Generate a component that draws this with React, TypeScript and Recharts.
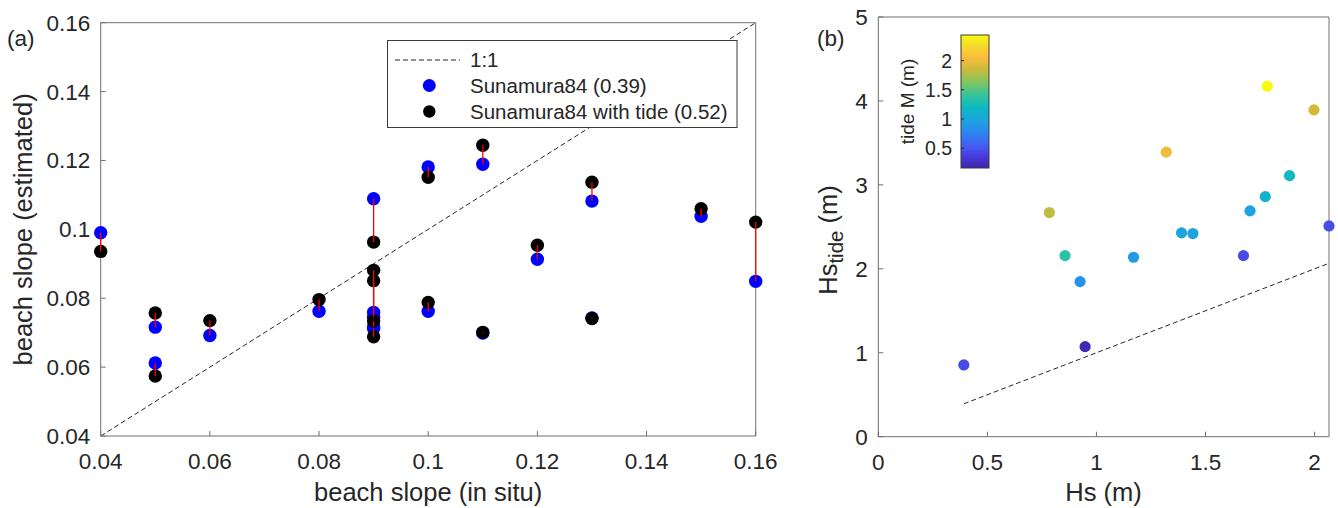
import React from 'react';
import { ScatterChart, Scatter, XAxis, YAxis, ReferenceLine } from 'recharts';

const FONT = '"Liberation Sans", Arial, Helvetica, sans-serif';
const TEXT = '#262626';
const AXIS = '#6f6f6f';

// ---------- Panel (a) data ----------
const slopeInSitu = [0.04, 0.05, 0.05, 0.06, 0.08, 0.09, 0.09, 0.09, 0.09, 0.09, 0.1, 0.1, 0.11, 0.11, 0.12, 0.13, 0.13, 0.15, 0.16];
const slopeSunamura = [0.099, 0.0716, 0.0612, 0.0692, 0.0762, 0.1089, 0.0759, 0.0745, 0.0717, 0.0712, 0.1181, 0.0762, 0.1189, 0.0699, 0.0913, 0.1082, 0.0743, 0.1038, 0.0849];
const slopeSunamuraTide = [0.0936, 0.0757, 0.0574, 0.0735, 0.0796, 0.0963, 0.0881, 0.0851, 0.0734, 0.0688, 0.1151, 0.0788, 0.1244, 0.0701, 0.0954, 0.1137, 0.0741, 0.106, 0.1021];
const slopeTicks = [0.04, 0.06, 0.08, 0.1, 0.12, 0.14, 0.16];
const slopeDomain = [0.04, 0.16];
const legendLabels = ['1:1', 'Sunamura84 (0.39)', 'Sunamura84 with tide (0.52)'];

// ---------- Panel (b) data ----------
const hs = [0.392, 0.784, 0.856, 0.925, 0.948, 1.17, 1.32, 1.39, 1.442, 1.674, 1.704, 1.774, 1.783, 1.885, 1.997, 2.066];
const hsTide = [0.855, 2.67, 2.157, 1.847, 1.073, 2.138, 3.39, 2.428, 2.42, 2.157, 2.69, 2.86, 4.176, 3.11, 3.894, 2.511];
const tideM = [0.45, 1.82, 1.35, 0.85, 0.2, 0.92, 2.0, 0.97, 0.97, 0.45, 0.97, 1.12, 2.44, 1.22, 1.88, 0.45];
const hsTicks = [0, 0.5, 1, 1.5, 2];
const hsTideTicks = [0, 1, 2, 3, 4, 5];
const tideTicks = [0.5, 1, 1.5, 2];
const tideRange = [0.16, 2.44];

// parula-like colormap
const PARULA: [number, string][] = [
  [0.0, '#3e26a8'], [0.08, '#4637d8'], [0.15, '#4856f1'], [0.25, '#2f80f3'],
  [0.35, '#1ea2e0'], [0.45, '#0cb8c5'], [0.55, '#36c49a'], [0.65, '#86c65e'],
  [0.75, '#d1ba3a'], [0.83, '#fbbd3d'], [0.92, '#f5da2c'], [1.0, '#f9fb0e'],
];
const hex2rgb = (h: string) => [1, 3, 5].map((i) => parseInt(h.slice(i, i + 2), 16));
const parula = (t: number) => {
  const c = Math.max(0, Math.min(1, t));
  for (let i = 1; i < PARULA.length; i++) {
    if (c <= PARULA[i][0]) {
      const [t0, h0] = PARULA[i - 1];
      const [t1, h1] = PARULA[i];
      const f = (c - t0) / (t1 - t0);
      const a = hex2rgb(h0), b = hex2rgb(h1);
      const m = a.map((v, k) => Math.round(v + (b[k] - v) * f));
      return `rgb(${m[0]},${m[1]},${m[2]})`;
    }
  }
  return PARULA[PARULA.length - 1][1];
};
const tideColor = (v: number) => parula((v - tideRange[0]) / (tideRange[1] - tideRange[0]));

const blueData = slopeInSitu.map((x, i) => ({ x, y: slopeSunamura[i] }));
const blackData = slopeInSitu.map((x, i) => ({ x, y: slopeSunamuraTide[i] }));
const pairData = slopeInSitu.map((x, i) => [{ x, y: slopeSunamura[i] }, { x, y: slopeSunamuraTide[i] }]);
const hsData = hs.map((x, i) => ({ x, y: hsTide[i], c: tideColor(tideM[i]) }));
const hsMin = Math.min(...hs);
const hsMax = Math.max(...hs);

const TICK_FS = 22.5;
const LABEL_FS = 25.5;

// chart coordinates: charts are placed at page (left, 0)
const A_TOP = 22.7, A_BOTTOM = 436, A_LEFT = 92.7, A_W = 780, A_PW = 655; // panel (a), chart at page x=8
const B_TOP = 17, B_BOTTOM = 436.7, B_LEFT = 88.3, B_W = 548, B_PW = 450.7; // panel (b), chart at page x=790
const CH = 508;
const TOP_H = 10;
const RIGHT_W = 10;

const bottomTick = (plotBottom: number) => (p: any) => (
  <text x={p.x} y={plotBottom + 33} textAnchor="middle" fontSize={TICK_FS} fontFamily={FONT} fill={TEXT}>
    {String(p.payload.value)}
  </text>
);
const leftTick = (plotLeft: number) => (p: any) => (
  <text x={plotLeft - 10.5} y={p.y + 8} textAnchor="end" fontSize={TICK_FS} fontFamily={FONT} fill={TEXT}>
    {String(p.payload.value)}
  </text>
);
const noLabel = () => <g />;

const axisCommon = {
  type: 'number' as const,
  tickSize: -5,
  tickMargin: 0,
  interval: 0 as const,
  axisLine: { stroke: AXIS, strokeWidth: 1 },
  tickLine: { stroke: AXIS, strokeWidth: 1 },
};

const dot = (r: number, fill: string) => (p: any) => <circle cx={p.cx} cy={p.cy} r={r} fill={fill} />;
const colorDot = (r: number) => (p: any) => <circle cx={p.cx} cy={p.cy} r={r} fill={p.payload.c} />;

// colorbar geometry (page px)
const CB = { x: 961, y: 35, w: 28, h: 133 };
const cbY = (v: number) => CB.y + CB.h - ((v - tideRange[0]) / (tideRange[1] - tideRange[0])) * CB.h;

export default function App() {
  return (
    <div style={{ position: 'absolute', left: 0, top: 0, width: 1338, height: 508, background: '#fff', fontFamily: FONT }}>
      {/* Panel (a) */}
      <div style={{ position: 'absolute', left: 8, top: 0 }}>
        <ScatterChart width={A_W} height={CH} margin={{ top: A_TOP - TOP_H, right: A_W - A_LEFT - A_PW - RIGHT_W, bottom: 0, left: 0 }}>
          <XAxis xAxisId={0} dataKey="x" domain={slopeDomain} ticks={slopeTicks} height={CH - A_BOTTOM} tick={bottomTick(A_BOTTOM)} {...axisCommon} />
          <XAxis xAxisId="top" orientation="top" dataKey="x" domain={slopeDomain} ticks={slopeTicks} height={TOP_H} tick={noLabel} {...axisCommon} />
          <YAxis yAxisId={0} dataKey="y" domain={slopeDomain} ticks={slopeTicks} width={A_LEFT} tick={leftTick(A_LEFT)} {...axisCommon} />
          <YAxis yAxisId="right" orientation="right" dataKey="y" domain={slopeDomain} ticks={slopeTicks} width={RIGHT_W} tick={noLabel} {...axisCommon} />
          <ReferenceLine
            xAxisId={0}
            yAxisId={0}
            segment={[{ x: slopeDomain[0], y: slopeDomain[0] }, { x: slopeDomain[1], y: slopeDomain[1] }]}
            stroke={TEXT}
            strokeWidth={1}
            strokeDasharray="5 3"
          />
          <Scatter xAxisId={0} yAxisId={0} data={blueData} shape={dot(6.7, '#0000ff')} isAnimationActive={false} />
          <Scatter xAxisId={0} yAxisId={0} data={blackData} shape={dot(6.7, '#000000')} isAnimationActive={false} />
          {pairData.map((d, i) => (
            <Scatter
              key={i}
              xAxisId={0}
              yAxisId={0}
              data={d}
              line={{ stroke: '#ff0000', strokeWidth: 1.3 }}
              shape={noLabel}
              isAnimationActive={false}
            />
          ))}
        </ScatterChart>
      </div>

      {/* Panel (b) */}
      <div style={{ position: 'absolute', left: 790, top: 0 }}>
        <ScatterChart width={B_W} height={CH} margin={{ top: B_TOP - TOP_H, right: B_W - B_LEFT - B_PW - RIGHT_W, bottom: 0, left: 0 }}>
          <XAxis xAxisId={0} dataKey="x" domain={[0, hsMax]} ticks={hsTicks} height={CH - B_BOTTOM} tick={bottomTick(B_BOTTOM)} {...axisCommon} />
          <XAxis xAxisId="top" orientation="top" dataKey="x" domain={[0, hsMax]} ticks={hsTicks} height={TOP_H} tick={noLabel} {...axisCommon} />
          <YAxis yAxisId={0} dataKey="y" domain={[0, 5]} ticks={hsTideTicks} width={B_LEFT} tick={leftTick(B_LEFT)} {...axisCommon} />
          <YAxis yAxisId="right" orientation="right" dataKey="y" domain={[0, 5]} ticks={hsTideTicks} width={RIGHT_W} tick={noLabel} {...axisCommon} />
          <ReferenceLine
            xAxisId={0}
            yAxisId={0}
            segment={[{ x: hsMin, y: hsMin }, { x: hsMax, y: hsMax }]}
            stroke={TEXT}
            strokeWidth={1}
            strokeDasharray="5 3"
          />
          <Scatter xAxisId={0} yAxisId={0} data={hsData} shape={colorDot(5.6)} isAnimationActive={false} />
        </ScatterChart>
      </div>

      {/* Overlay: labels, legend, colorbar */}
      <svg width={1338} height={508} style={{ position: 'absolute', left: 0, top: 0, pointerEvents: 'none' }} fontFamily={FONT}>
        <text x={7} y={46} fontSize={TICK_FS} fill={TEXT}>(a)</text>
        <text x={817} y={46} fontSize={TICK_FS} fill={TEXT}>(b)</text>

        <text x={428.2} y={501} textAnchor="middle" fontSize={LABEL_FS} fill={TEXT}>beach slope (in situ)</text>
        <text transform="translate(32,229.4) rotate(-90)" textAnchor="middle" fontSize={LABEL_FS} fill={TEXT}>beach slope (estimated)</text>

        <text x={1103.6} y={501.4} textAnchor="middle" fontSize={LABEL_FS} fill={TEXT}>Hs (m)</text>
        <text transform="translate(837,240) rotate(-90)" textAnchor="middle" fontSize={LABEL_FS} fill={TEXT}>
          Hs<tspan fontSize={20.5} dy={6}>tide</tspan><tspan dy={-6}> (m)</tspan>
        </text>

        {/* Legend */}
        <rect x={387.5} y={40.5} width={349.5} height={87} fill="#fff" stroke="#3a3a3a" strokeWidth={1} />
        <line x1={395} y1={60} x2={460} y2={60} stroke={TEXT} strokeWidth={1} strokeDasharray="5 3" />
        <text x={470} y={67} fontSize={20.5} fill={TEXT}>{legendLabels[0]}</text>
        <circle cx={429.3} cy={85.5} r={6.5} fill="#0000ff" />
        <text x={470} y={93} fontSize={20.5} fill={TEXT}>{legendLabels[1]}</text>
        <circle cx={429.3} cy={111.5} r={6.2} fill="#000" />
        <text x={470} y={119} fontSize={20.5} fill={TEXT}>{legendLabels[2]}</text>

        {/* Colorbar */}
        <defs>
          <linearGradient id="parulaGrad" x1="0" y1="1" x2="0" y2="0">
            {PARULA.map(([t, c], i) => (
              <stop key={i} offset={t} stopColor={c} />
            ))}
          </linearGradient>
        </defs>
        <rect x={CB.x} y={CB.y} width={CB.w} height={CB.h} fill="url(#parulaGrad)" stroke="#3a3a3a" strokeWidth={1} />
        {tideTicks.map((v) => (
          <g key={v}>
            <line x1={CB.x} x2={CB.x + 3} y1={cbY(v)} y2={cbY(v)} stroke="#262626" strokeWidth={1} />
            <text x={952} y={cbY(v) + 7} textAnchor="end" fontSize={19.5} fill={TEXT}>{String(v)}</text>
          </g>
        ))}
        <text transform={`translate(914,${CB.y + CB.h / 2}) rotate(-90)`} textAnchor="middle" fontSize={19} fill={TEXT}>tide M (m)</text>
      </svg>
    </div>
  );
}
